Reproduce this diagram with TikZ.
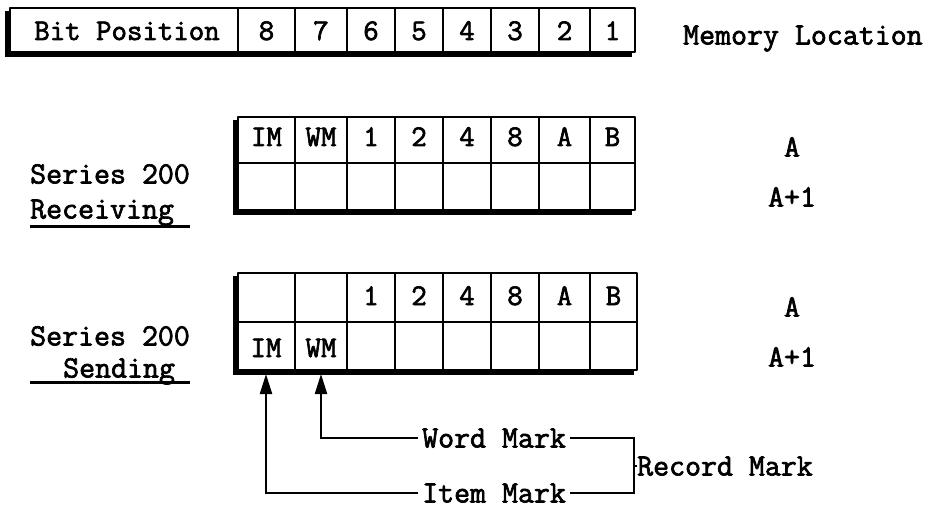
\documentclass[tikz,border=0pt]{standalone}
\usepackage{fontspec}
\newfontfamily\typeFont{Latin Modern Mono}[FakeBold=2.2]
\usetikzlibrary{positioning,arrows.meta}
\tikzstyle{sheet} = [x = 1pt, y = -1pt]
\tikzstyle{shadowStyle} = [fill=black]
\tikzstyle{boxStyle} = [draw=black, fill=white, line width=2.6pt, line join=round]
\tikzstyle{cellLine} = [color=black, line width=1.8pt]
\tikzstyle{cellText} = [font=\typeFont\fontsize{30}{30}\selectfont, inner sep=0pt, text height=18pt, text depth=0pt]
\tikzstyle{labelText} = [font=\typeFont\fontsize{31}{31}\selectfont, inner sep=0pt, text height=19pt, text depth=0pt]
\tikzstyle{markText} = [labelText, inner xsep=4pt]
\tikzstyle{markLine} = [color=black, line width=2.2pt]
\tikzstyle{markArrow} = [markLine, -{Triangle[length=20pt, width=12pt]}]
\tikzstyle{underLine} = [color=black, line width=3pt]
\newcommand{\shadowBox}[4]{\fill [shadowStyle] (#1 - 5, #2 + 3) rectangle (#3 - 3, #4 + 5); \filldraw [boxStyle] (#1, #2) rectangle (#3, #4);}
\newcommand{\columnLines}[2]{
  \foreach \x in {295,347,395,443,491,539,590} {
    \draw [cellLine] (\x, #1) -- (\x, #2);
  }
}
\begin{document}
\begin{tikzpicture}[sheet]
  \useasboundingbox (0,0) rectangle (937,508);
  % bit positions
  \shadowBox{10}{8}{635}{52}
  \draw [cellLine] (238, 8) -- (238, 52);
  \columnLines{8}{52}
  \node [cellText] (bitTitle) at (127, 31) {Bit Position};
  \foreach \left/\right/\bit in {238/295/8, 295/347/7, 347/395/6, 395/443/5, 443/491/4, 491/539/3, 539/590/2, 590/635/1} {
    \node [cellText] (bit\bit) at ({(\left + \right) / 2}, 31) {\bit};
  }
  \node [labelText, anchor=west] (memLoc) at (683, 35) {Memory Location};
  % receiving
  \shadowBox{238}{117}{635}{210}
  \draw [cellLine, line width=2.4pt] (238, 163) -- (635, 163);
  \columnLines{117}{210}
  \foreach \left/\right/\name/\txt in {238/295/IM/IM, 295/347/WM/WM, 347/395/one/1, 395/443/two/2, 443/491/four/4, 491/539/eight/8, 539/590/A/A, 590/635/B/B} {
    \node [cellText] (recv\name) at ({(\left + \right) / 2}, 137) {\txt};
  }
  \node [labelText] (recvAddr) at (792, 147) {A};
  \node [labelText] (recvNext) at (792, 197) {A+1};
  \node [labelText, anchor=west] (seriesRecv) at (30, 174) {Series 200};
  \node [labelText, anchor=west] (recvText) at (30, 209) {Receiving};
  \draw [underLine] (seriesRecv.west |- 0,226) -- (seriesRecv.east |- 0,226);
  % sending
  \shadowBox{238}{273}{637}{370}
  \draw [cellLine, line width=2.4pt] (238, 322) -- (637, 322);
  \columnLines{273}{370}
  \foreach \left/\right/\name/\txt in {347/395/one/1, 395/443/two/2, 443/491/four/4, 491/539/eight/8, 539/590/A/A, 590/637/B/B} {
    \node [cellText] (send\name) at ({(\left + \right) / 2}, 296) {\txt};
  }
  \node [cellText] (sendIM) at (266, 348) {IM};
  \node [cellText] (sendWM) at (321, 348) {WM};
  \node [labelText] (sendAddr) at (792, 307) {A};
  \node [labelText] (sendNext) at (792, 357) {A+1};
  \node [labelText, anchor=west] (seriesSend) at (30, 336) {Series 200};
  \node [labelText, anchor=west] (sendText) at (63, 368) {Sending};
  \draw [underLine] (seriesSend.west |- 0,382) -- (seriesSend.east |- 0,382);
  % marks
  \coordinate (sendBottom) at (0, 374);
  \node [markText, anchor=west] (wordMark) at (418, 438) {Word Mark};
  \node [markText, anchor=west] (itemMark) at (418, 493) {Item Mark};
  \coordinate (bracket) at (634, 466);
  \node [labelText, right=3pt of bracket] (recordMark) {Record Mark};
  \draw [markArrow] (wordMark.west) -| (sendWM |- sendBottom);
  \draw [markArrow] (itemMark.west) -| (sendIM |- sendBottom);
  \draw [markLine] (wordMark.east) -| (bracket) |- (itemMark.east);
  \draw [markLine] (bracket) -- (recordMark.west);
\end{tikzpicture}
\end{document}
